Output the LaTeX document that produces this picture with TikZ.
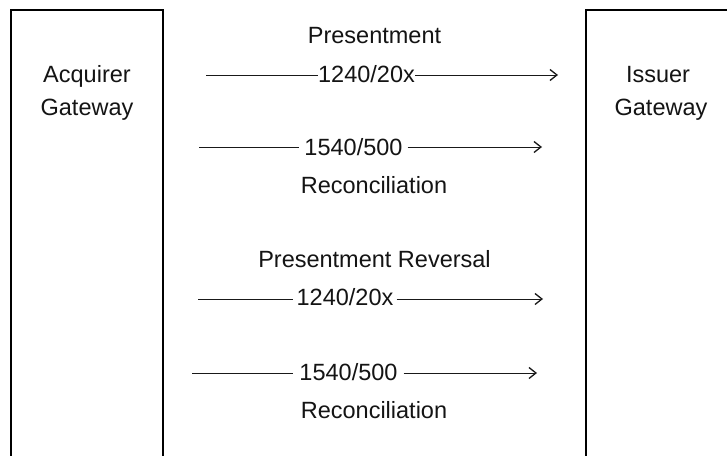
\documentclass[tikz,border=0pt]{standalone}
\usepackage{fontspec}
\setmainfont{Liberation Sans}
\usetikzlibrary{arrows.meta}
\begin{document}
\begin{tikzpicture}[x=1pt,y=-1pt,
  gatebox/.style={draw=black,line width=1.8pt,outer sep=0pt,inner sep=0pt,anchor=north west},
  txt/.style={anchor=base,inner sep=0pt,text=black!92,font=\fontsize{23.5pt}{28pt}\selectfont},
  lbl/.style={txt,inner ysep=0pt},
  msg/.style={line width=0.8pt,draw=black!90},
  msgarrow/.style={msg,-{Straight Barb[length=7pt,width=11pt,line width=1.3pt]}}]
\useasboundingbox (0,0) rectangle (727,455);
\clip (0,0) rectangle (727,455);
\fill[white] (0,0) rectangle (727,455);
% boxes
\node[gatebox,minimum width=152pt,minimum height=470pt] (acq) at (11,10) {};
\node[gatebox,minimum width=200pt,minimum height=470pt] (iss) at (586,10) {};
\node[txt] (acqA) at (87,82) {Acquirer};
\node[txt] (acqB) at (87,115) {Gateway};
\node[txt] (issA) at (658,82) {Issuer};
\node[txt] (issB) at (661,115) {Gateway};
% titles
\node[txt] (t1) at (374.5,43) {Presentment};
\node[txt] (t2) at (374,193) {Reconciliation};
\node[txt] (t3) at (374.5,267) {Presentment Reversal};
\node[txt] (t4) at (374,418) {Reconciliation};
% arrow endpoints
\coordinate (a1s) at (206,75);  \coordinate (a1e) at (558,75);
\coordinate (a2s) at (199,147); \coordinate (a2e) at (542,147);
\coordinate (a3s) at (198,299); \coordinate (a3e) at (543,299);
\coordinate (a4s) at (192,373); \coordinate (a4e) at (537,373);
% labels
\node[lbl,inner xsep=0pt] (l1) at (366.5,82) {1240/20x};
\node[lbl,inner xsep=5pt] (l2) at (353.5,155) {1540/500};
\node[lbl,inner xsep=3pt] (l3) at (345,305) {1240/20x};
\node[lbl,inner xsep=6pt] (l4) at (348.5,380) {1540/500};
% arrows
\draw[msg] (a1s) -- (l1.west |- a1s);
\draw[msgarrow] (l1.east |- a1e) -- (a1e);
\draw[msg] (a2s) -- (l2.west |- a2s);
\draw[msgarrow] (l2.east |- a2e) -- (a2e);
\draw[msg] (a3s) -- (l3.west |- a3s);
\draw[msgarrow] (l3.east |- a3e) -- (a3e);
\draw[msg] (a4s) -- (l4.west |- a4s);
\draw[msgarrow] (l4.east |- a4e) -- (a4e);
\end{tikzpicture}
\end{document}
